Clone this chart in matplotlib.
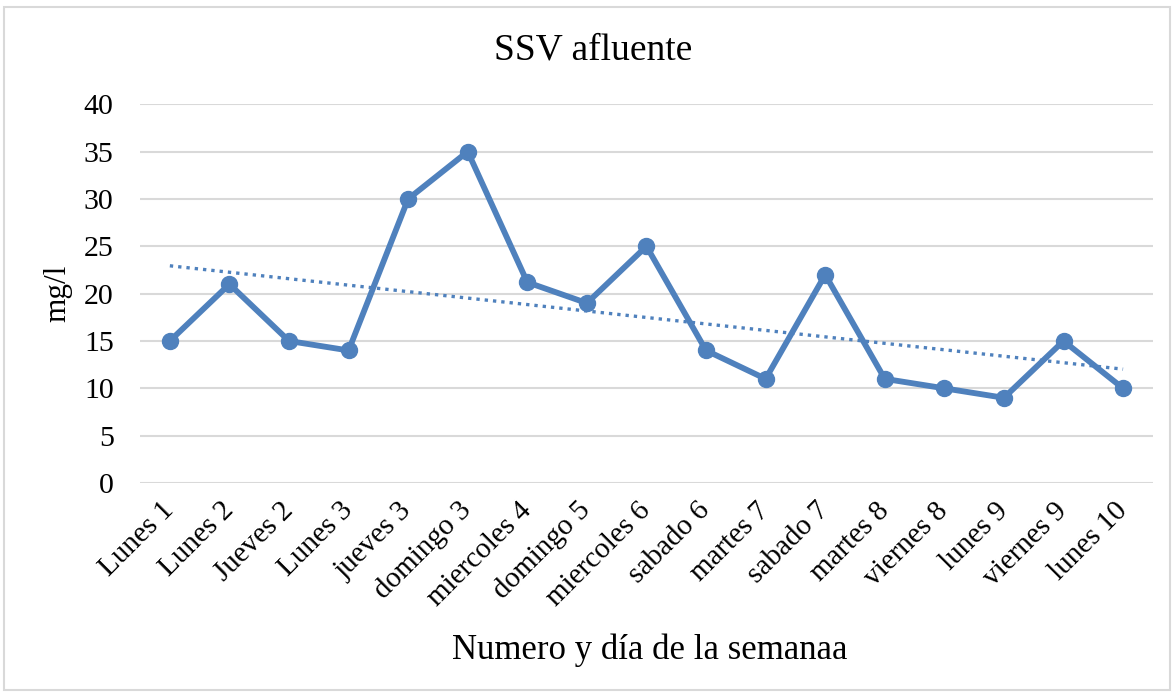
import numpy as np
import matplotlib
matplotlib.use("Agg")
import matplotlib.pyplot as plt
from matplotlib.patches import Rectangle

categories = ["Lunes 1", "Lunes 2", "Jueves 2", "Lunes 3", "jueves 3", "domingo 3",
              "miercoles 4", "domingo 5", "miercoles 6", "sabado 6", "martes 7",
              "sabado 7", "martes 8", "viernes 8", "lunes 9", "viernes 9", "lunes 10"]
values = [15, 21, 15, 14, 30, 35, 21.2, 19, 25, 14, 11, 22, 11, 10, 9, 15, 10]
yticks = [0, 5, 10, 15, 20, 25, 30, 35, 40]

plt.rcParams['font.family'] = ['Liberation Serif', 'DejaVu Serif']
blue = "#4F81BD"

fig = plt.figure(figsize=(11.74, 6.95), dpi=100)
ax = fig.add_axes([0.1193, 0.305, 0.8627, 0.545])

x = np.arange(len(categories))
ax.plot(x, values, color=blue, lw=4.2, marker='o', markersize=11.5, zorder=3)

coef = np.polyfit(x, values, 1)
ax.plot(x, np.polyval(coef, x), color=blue, lw=2.4, ls=(0, (1, 1.5)), zorder=2)

ax.set_xlim(-0.5, len(categories) - 0.5)
ax.set_ylim(0, 40)
ax.set_yticks(yticks)
ax.set_yticklabels([str(t) for t in yticks], fontsize=21.5)
ax.set_xticks(x)
ax.set_xticklabels(categories, fontsize=21, rotation=45, ha='right', va='center',
                   rotation_mode='anchor')
ax.tick_params(axis='both', length=0)
ax.tick_params(axis='y', pad=19)
ax.tick_params(axis='x', pad=17)
ax.grid(axis='y', color='#D9D9D9', lw=1.5)
ax.set_axisbelow(True)
for s in ax.spines.values():
    s.set_visible(False)

fig.text(0.5055, 0.928, "SSV afluente", fontsize=27, ha='center', va='center')
ax.set_ylabel("mg/l", fontsize=22.5, labelpad=8)
fig.text(0.5535, 0.065, "Numero y día de la semanaa", fontsize=25, ha='center', va='center')

fig.patches.append(Rectangle((0.003, 0.007), 0.994, 0.983, transform=fig.transFigure,
                             fill=False, edgecolor='#D9D9D9', lw=1.5))

fig.savefig("out.png", dpi=100)
